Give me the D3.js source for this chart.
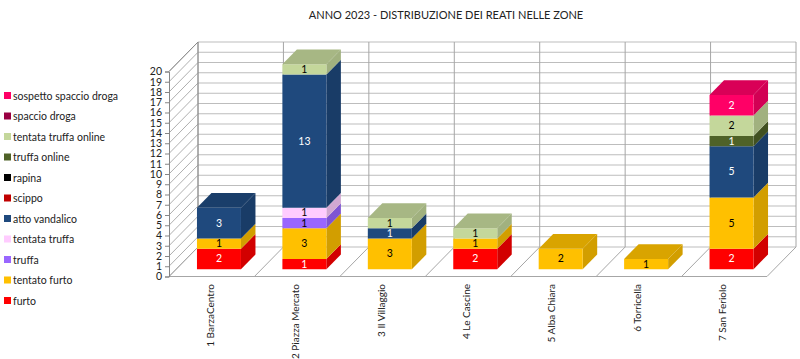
<!DOCTYPE html>
<html><head><meta charset="utf-8">
<script src="https://cdn.jsdelivr.net/npm/d3@7"></script>
<style>body{margin:0;background:#fff}svg{display:block;font-family:Lato,"Liberation Sans",sans-serif}</style>
</head><body><svg id="c" width="800" height="359"></svg>
<script>
const title = "ANNO 2023 - DISTRIBUZIONE DEI REATI NELLE ZONE";
const zones = ["1 BarzaCentro","2 Piazza Mercato","3 Il Villaggio","4 Le Cascine","5 Alba Chiara","6 Torricella","7 San Feriolo"];
const seriesNames = ["furto","tentato furto","truffa","tentata truffa","atto vandalico","scippo","rapina","truffa online","tentata truffa online","spaccio droga","sospetto spaccio droga"];
const seriesColors = ["#FF0000","#FFC000","#9966FF","#FFCCFF","#1F497D","#C00000","#000000","#4F6228","#C4D79B","#990042","#FF0066"];
const labelColors = ["#fff","#000","#000","#000","#fff","#fff","#fff","#fff","#000","#fff","#fff"];
const furto =              [2,1,0,2,0,0,2];
const tentatoFurto =       [1,3,3,1,2,1,5];
const truffa =             [0,1,0,0,0,0,0];
const tentataTruffa =      [0,1,0,0,0,0,0];
const attoVandalico =      [3,13,1,0,0,0,5];
const scippo =             [0,0,0,0,0,0,0];
const rapina =             [0,0,0,0,0,0,0];
const truffaOnline =       [0,0,0,0,0,0,1];
const tentataTruffaOnline =[0,1,1,1,0,0,2];
const spaccioDroga =       [0,0,0,0,0,0,0];
const sospettoSpaccio =    [0,0,0,0,0,0,2];
const yTicks = d3.range(0,21);

const values = [furto,tentatoFurto,truffa,tentataTruffa,attoVandalico,scippo,rapina,truffaOnline,tentataTruffaOnline,spaccioDroga,sospettoSpaccio];
const svg = d3.select("#c");
const DX = 29, DY = 29.5;
const x = d3.scaleBand().domain(zones).range([169, 767]).paddingInner(0.485).paddingOuter(0.2425);
const xs = d3.scaleBand().domain(zones).range([169, 767]);
const y = d3.scaleLinear().domain([0,20]).range([276.5, 71.5]);
const P = (px, py, z) => [px + z*DX, py - z*DY];
const pts = a => a.map(p => p.join(",")).join(" ");

svg.append("text").attr("x",446).attr("y",19).attr("text-anchor","middle").attr("font-size",11).attr("fill","#222").text(title);

const grid = svg.append("g").attr("fill","none");
const x0 = 169, x1 = 767;
grid.append("rect").attr("x",x0+DX).attr("y",y(20)-DY).attr("width",x1-x0).attr("height",y(0)-y(20)).attr("fill","#fff");
yTicks.forEach(v=>{
  grid.append("line").attr("x1",x0+DX).attr("x2",x1+DX).attr("y1",y(v)-DY).attr("y2",y(v)-DY).attr("stroke","#BDBDBD").attr("stroke-width",1);
  grid.append("line").attr("x1",x0).attr("y1",y(v)).attr("x2",x0+DX).attr("y2",y(v)-DY).attr("stroke","#9A9A9A").attr("stroke-width",0.8);
});
zones.concat(["_end"]).forEach((z,i)=>{
  const xv = x0 + xs.step()*i;
  grid.append("line").attr("x1",xv+DX).attr("x2",xv+DX).attr("y1",y(20)-DY).attr("y2",y(0)-DY).attr("stroke","#A6A6A6");
  grid.append("line").attr("x1",xv).attr("y1",y(0)).attr("x2",xv+DX).attr("y2",y(0)-DY).attr("stroke","#A6A6A6");
});
grid.append("line").attr("x1",x0+DX).attr("x2",x0+DX).attr("y1",y(20)-DY).attr("y2",y(0)-DY).attr("stroke","#8C8C8C");
grid.append("line").attr("x1",x0).attr("x2",x1).attr("y1",y(0)).attr("y2",y(0)).attr("stroke","#A6A6A6");
grid.append("line").attr("x1",x0).attr("x2",x0+DX).attr("y1",y(20)).attr("y2",y(20)-DY).attr("stroke","#8C8C8C");
const ax = svg.append("g").attr("transform",`translate(${x0},0)`)
  .call(d3.axisLeft(y).tickValues(yTicks).tickSize(4).tickPadding(3).tickFormat(d3.format("d")));
ax.select(".domain").attr("stroke","#868686");
ax.selectAll(".tick line").attr("stroke","#868686");
ax.selectAll("text").attr("font-size",10.5).attr("fill","#222").attr("font-family","Lato,sans-serif");

const shade = (c,k) => d3.rgb(c).darker(k).formatHex();
const bars = svg.append("g");
zones.forEach((z,i)=>{
  let base = 0;
  const bx = x(z), bw = x.bandwidth();
  let topIdx = -1;
  values.forEach((arr,s)=>{ if(arr[i]>0) topIdx = s; });
  values.forEach((arr,s)=>{
    const v = arr[i]; if(!v) return;
    const yb = y(base), yt = y(base+v);
    const c = seriesColors[s];
    const fl = P(bx, yb, 0.25), fr = P(bx+bw, yb, 0.25), tl = P(bx, yt, 0.25), tr = P(bx+bw, yt, 0.25);
    const brb = P(bx+bw, yb, 0.75), brt = P(bx+bw, yt, 0.75), blt = P(bx, yt, 0.75);
    bars.append("polygon").attr("points",pts([fr,tr,brt,brb])).attr("fill",shade(c,0.55));
    bars.append("polygon").attr("points",pts([fl,fr,tr,tl])).attr("fill",c);
    if(s===topIdx) bars.append("polygon").attr("points",pts([tl,tr,brt,blt])).attr("fill",shade(c,0.45));
    bars.append("text").attr("x",(fl[0]+fr[0])/2).attr("y",(fl[1]+tl[1])/2+3.5).attr("text-anchor","middle")
      .attr("font-size",10.5).attr("fill",labelColors[s]).text(v);
    base += v;
  });
});

zones.forEach(z=>{
  const cx = xs(z)+xs.bandwidth()/2 - 1;
  svg.append("text").attr("transform",`translate(${cx+3},284) rotate(-90)`).attr("text-anchor","end")
    .attr("font-size",10).attr("fill","#222").text(z);
});

const leg = svg.append("g");
const order = seriesNames.map((n,i)=>i).reverse();
order.forEach((s,k)=>{
  const ly = 96 + k*20.5;
  leg.append("rect").attr("x",4).attr("y",ly-4).attr("width",7).attr("height",7).attr("fill",seriesColors[s]);
  leg.append("text").attr("x",13).attr("y",ly+3.5).attr("font-size",10.5).attr("fill","#222").text(seriesNames[s]);
});
</script></body></html>
